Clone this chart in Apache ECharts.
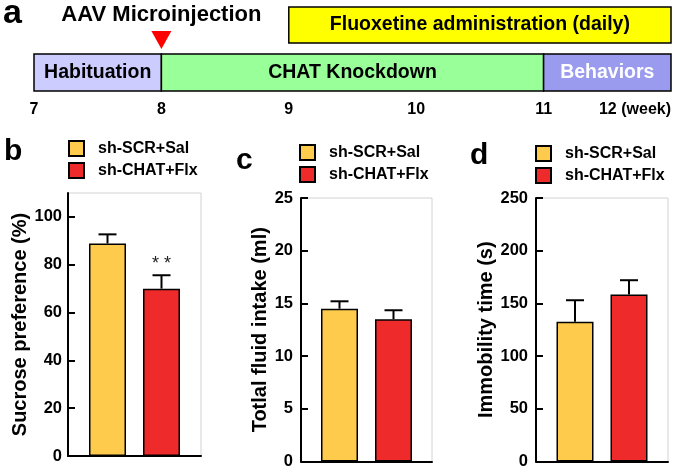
<!DOCTYPE html>
<html><head><meta charset="utf-8">
<script src="https://cdn.jsdelivr.net/npm/echarts@6/dist/echarts.min.js"></script>
<style>html,body{margin:0;padding:0;background:#fff}#c{width:675px;height:470px}</style>
</head><body><div id="c"></div>
<script>
// ---------- Data: panel a (timeline, weeks) ----------
const phaseNames = ['Habituation', 'CHAT Knockdown', 'Behaviors'];
const phaseStart = [7, 8, 11];
const phaseEnd = [8, 11, 12];
const drugName = 'Fluoxetine administration (daily)';
const drugStart = [9];
const drugEnd = [12];
const injectionWeek = [8];
const injectionLabel = 'AAV Microinjection';
const weekTicks = [7, 8, 9, 10, 11, 12];
const weekUnit = '(week)';

// ---------- Data: panels b, c, d ----------
const groups = ['sh-SCR+Sal', 'sh-CHAT+Flx'];
const sucroseMean = [88.9, 70.0];
const sucroseSEM = [3.8, 5.6];
const sucroseSig = ['', '* *'];
const sucroseTicks = [0, 20, 40, 60, 80, 100];
const fluidMean = [14.5, 13.5];
const fluidSEM = [0.7, 0.85];
const fluidTicks = [0, 5, 10, 15, 20, 25];
const immobMean = [132.6, 158.4];
const immobSEM = [20.4, 13.6];
const immobTicks = [0, 50, 100, 150, 200, 250];

// ---------- Styles / layout ----------
const FONT = '"Liberation Sans", Arial, sans-serif';
const phaseColors = ['#CCCCFF', '#99FF99', '#9A9AEE'];
const phaseTextColors = ['#000', '#000', '#fff'];
const drugColor = '#FFFF00';
const groupColors = ['#FFCB4C', '#EE2A2A'];
const ROW_TIMELINE = [0, 0.44];
const ROW_DRUG = [0.571, 1];
const BAR_W = 37, BAR_GAP = 17;

function rectItem(api, lo, hi, fill, text, textColor) {
  const a = api.coord([api.value(0), lo]);
  const b = api.coord([api.value(1), hi]);
  return {
    type: 'rect',
    shape: { x: a[0], y: b[1], width: b[0] - a[0], height: a[1] - b[1] },
    style: { fill: fill, stroke: '#000', lineWidth: 1.5 },
    textContent: { style: { text: text, fill: textColor, font: 'bold 19.5px ' + FONT } },
    textConfig: { position: 'inside' }
  };
}

function errRender(params, api) {
  const m = api.value(1), s = api.value(2), k = api.value(3);
  const base = api.coord([api.value(0), m]);
  const top = api.coord([api.value(0), m + s]);
  const x = base[0] + (k - 0.5) * (BAR_W + BAR_GAP);
  const st = { stroke: '#000', lineWidth: 2 };
  return { type: 'group', children: [
    { type: 'line', shape: { x1: x, y1: base[1], x2: x, y2: top[1] }, style: st },
    { type: 'line', shape: { x1: x - 9, y1: top[1], x2: x + 9, y2: top[1] }, style: st }
  ]};
}

const grids = [
  { left: 34, top: 7, width: 637, height: 84 },
  { left: 68, top: 193, width: 133, height: 263 },
  { left: 301, top: 198, width: 131, height: 264 },
  { left: 536, top: 198, width: 132, height: 264 }
];
grids.forEach((g, i) => {
  if (i > 0) { g.show = true; g.borderColor = '#d2d2d2'; g.borderWidth = 1; g.backgroundColor = 'transparent'; }
});

const panels = [
  { mean: sucroseMean, sem: sucroseSEM, ticks: sucroseTicks, max: 110, name: 'Sucrose preference (%)', gap: 38, margin: 6, sig: sucroseSig },
  { mean: fluidMean, sem: fluidSEM, ticks: fluidTicks, max: 25, name: 'Totlal fluid intake (ml)', gap: 27, margin: 8 },
  { mean: immobMean, sem: immobSEM, ticks: immobTicks, max: 250, name: 'Immobility time (s)', gap: 39, margin: 8 }
];

const xAxes = [{
  gridIndex: 0, type: 'value', min: weekTicks[0], max: weekTicks[weekTicks.length - 1], interval: 1,
  axisLine: { show: false }, axisTick: { show: false }, splitLine: { show: false },
  axisLabel: { fontSize: 16, fontWeight: 'bold', color: '#000', margin: 11, alignMaxLabel: 'right',
    formatter: v => (v === weekTicks[weekTicks.length - 1] ? v + ' ' + weekUnit : String(v)) }
}];
const yAxes = [{ gridIndex: 0, type: 'value', min: 0, max: 1, show: false }];
const series = [];

series.push({
  type: 'custom', xAxisIndex: 0, yAxisIndex: 0, silent: true,
  data: phaseNames.map((n, i) => [phaseStart[i], phaseEnd[i], i]),
  encode: { x: [0, 1] },
  renderItem: (p, api) => {
    const i = api.value(2);
    return rectItem(api, ROW_TIMELINE[0], ROW_TIMELINE[1], phaseColors[i], phaseNames[i], phaseTextColors[i]);
  }
});
series.push({
  type: 'custom', xAxisIndex: 0, yAxisIndex: 0, silent: true,
  data: drugStart.map((s, i) => [s, drugEnd[i]]),
  encode: { x: [0, 1] },
  renderItem: (p, api) => rectItem(api, ROW_DRUG[0], ROW_DRUG[1], drugColor, drugName, '#000')
});
// injection marker: red downward triangle + label, anchored at the injection week on the timeline top
series.push({
  type: 'custom', xAxisIndex: 0, yAxisIndex: 0, silent: true,
  data: injectionWeek.map(w => [w]),
  encode: { x: 0 },
  renderItem: (p, api) => {
    const c = api.coord([api.value(0), ROW_TIMELINE[1]]);
    const x = c[0], y = c[1];
    return { type: 'group', children: [
      { type: 'polygon', shape: { points: [[x - 10, y - 23], [x + 10, y - 23], [x, y - 5]] }, style: { fill: '#FF0000' } },
      { type: 'text', x: x, y: y - 39, style: { text: injectionLabel, font: 'bold 22px ' + FONT, fill: '#000', align: 'center', verticalAlign: 'middle' } }
    ]};
  }
});

panels.forEach((p, k) => {
  const gi = k + 1;
  xAxes.push({
    gridIndex: gi, type: 'category', data: [p.name],
    axisLine: { lineStyle: { color: '#000', width: 2 } },
    axisTick: { show: false }, axisLabel: { show: false }
  });
  yAxes.push({
    gridIndex: gi, type: 'value', min: 0, max: p.max,
    splitLine: { show: false },
    axisLine: { show: true, lineStyle: { color: '#000', width: 2 } },
    axisTick: { show: true, inside: true, length: 7, lineStyle: { color: '#000', width: 2 }, customValues: p.ticks },
    axisLabel: { fontSize: 16.5, fontWeight: 'bold', color: '#000', margin: p.margin, customValues: p.ticks },
    name: p.name, nameLocation: 'middle', nameRotate: 90, nameGap: p.gap,
    nameTextStyle: { fontSize: 20, fontWeight: 'bold', color: '#000' }
  });
  groups.forEach((g, j) => {
    const s = {
      type: 'bar', name: g, xAxisIndex: gi, yAxisIndex: gi,
      data: [p.mean[j]], barWidth: BAR_W, barGap: (BAR_GAP / BAR_W * 100) + '%',
      itemStyle: { color: groupColors[j], borderColor: '#000', borderWidth: 1.5 },
      silent: true
    };
    if (p.sig && p.sig[j]) {
      s.label = { show: true, position: 'top', distance: 16, formatter: p.sig[j],
        fontSize: 18, color: '#222', fontFamily: FONT };
    }
    series.push(s);
  });
  series.push({
    type: 'custom', name: 'err' + k, xAxisIndex: gi, yAxisIndex: gi, silent: true, z: 5,
    data: groups.map((g, j) => [0, p.mean[j], p.sem[j], j]),
    encode: { x: 0, y: 1 },
    renderItem: errRender
  });
});

const legendPos = [[68, 140], [299, 144], [535, 145]];
const legends = legendPos.map(pos => ({
  left: pos[0], top: pos[1], orient: 'vertical', padding: 0, itemGap: 5,
  itemWidth: 15, itemHeight: 15, icon: 'rect', selectedMode: false, data: groups,
  textStyle: { fontSize: 16, fontWeight: 'bold', color: '#000', padding: [0, 0, 0, 9] }
}));

const letters = [['a', 3, -3, 34], ['b', 4, 137, 30], ['c', 236, 146, 30], ['d', 470, 141, 30]];
const titles = letters.map(l => ({
  text: l[0], left: l[1], top: l[2], padding: 0,
  textStyle: { fontSize: l[3], fontWeight: 'bold', color: '#000', fontFamily: FONT }
}));

const chart = echarts.init(document.getElementById('c'), null, { renderer: 'canvas' });
chart.setOption({
  animation: false,
  textStyle: { fontFamily: FONT },
  title: titles,
  legend: legends,
  grid: grids,
  xAxis: xAxes,
  yAxis: yAxes,
  series: series
});
</script></body></html>
